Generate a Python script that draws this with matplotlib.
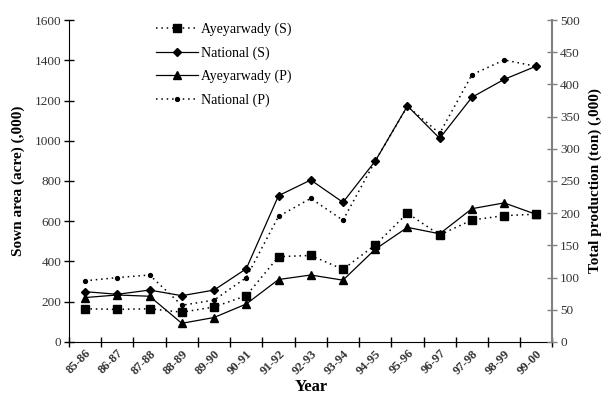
import numpy as np
import matplotlib
matplotlib.use("Agg")
from matplotlib import pyplot as plt

plt.rcParams['font.family'] = ['Liberation Serif', 'DejaVu Serif']

# datos
years = ['85-86', '86-87', '87-88', '88-89', '89-90', '90-91', '91-92', '92-93',
         '93-94', '94-95', '95-96', '96-97', '97-98', '98-99', '99-00']
# area sembrada (eje izquierdo, acre ,000)
ayeyarwady_s = [165, 162, 165, 148, 174, 230, 424, 430, 361, 482, 640, 532, 606, 628, 635]
national_s = [250, 237, 258, 230, 258, 364, 727, 805, 694, 899, 1173, 1012, 1216, 1305, 1371]
# produccion total (eje derecho, ton ,000)
ayeyarwady_p = [69, 73, 71, 29, 38, 59, 97, 104, 96, 144, 178, 168, 207, 216, 198]
national_p = [95, 100, 104, 57, 65, 100, 195, 223, 189, 281, 366, 324, 415, 438, 428]

x = np.arange(len(years))
dot = (0, (1, 2.5))

fig = plt.figure(figsize=(6.01, 4.05), dpi=100)
ax = fig.add_axes([0.1148, 0.1556, 0.8045, 0.795])
ax2 = ax.twinx()

l1, = ax.plot(x, ayeyarwady_s, color='black', lw=1.1, ls=dot, marker='s', ms=5.5,
              label='Ayeyarwady (S)')
l2, = ax.plot(x, national_s, color='black', lw=0.9, ls='-', marker='D', ms=4.5,
              label='National (S)')
l3, = ax2.plot(x, ayeyarwady_p, color='black', lw=0.9, ls='-', marker='^', ms=6,
               label='Ayeyarwady (P)')
l4, = ax2.plot(x, national_p, color='black', lw=1.1, ls=dot, marker='o', ms=2.8,
               label='National (P)')

ax.set_xlim(-0.5, len(years) - 0.5)
ax.set_ylim(0, 1600)
ax2.set_ylim(0, 500)
ax.set_yticks(np.arange(0, 1601, 200))
ax2.set_yticks(np.arange(0, 501, 50))

# marcas entre categorias, etiquetas en el centro
ax.set_xticks(np.arange(-0.5, len(years), 1.0))
ax.set_xticklabels([])
ax.set_xticks(x, minor=True)
ax.set_xticklabels(years, minor=True, rotation=45, ha='right', va='top',
                   rotation_mode='anchor', fontsize=9, fontweight='bold', color='#333333')
ax.tick_params(axis='x', which='minor', length=0, pad=4)
ax.tick_params(axis='x', which='major', direction='inout', length=7, width=1)
ax.tick_params(axis='y', direction='inout', length=7, width=1, labelsize=9.5,
               labelcolor='#333333', pad=2)
ax2.tick_params(axis='y', direction='inout', length=7, width=1, labelsize=9.5,
                color='#808080', labelcolor='#333333', pad=2)

for s in ['top', 'right']:
    ax.spines[s].set_visible(False)
ax2.spines['top'].set_visible(False)
ax2.spines['left'].set_visible(False)
ax2.spines['bottom'].set_visible(False)
ax2.spines['right'].set_color('#808080')
ax2.spines['right'].set_linewidth(1.5)

ax.set_xlabel('Year', fontsize=12, fontweight='bold', labelpad=2)
ax.set_ylabel('Sown area (acre) (,000)', fontsize=11, fontweight='bold', labelpad=7)
ax2.set_ylabel('Total production (ton) (,000)', fontsize=11, fontweight='bold', labelpad=6)

leg = ax.legend(handles=[l1, l2, l3, l4], loc='upper left',
                bbox_to_anchor=(0.155, 1.03), frameon=False, fontsize=10,
                handlelength=3.0, handletextpad=0.2, labelspacing=0.72)

fig.savefig('out.png', dpi=100)
